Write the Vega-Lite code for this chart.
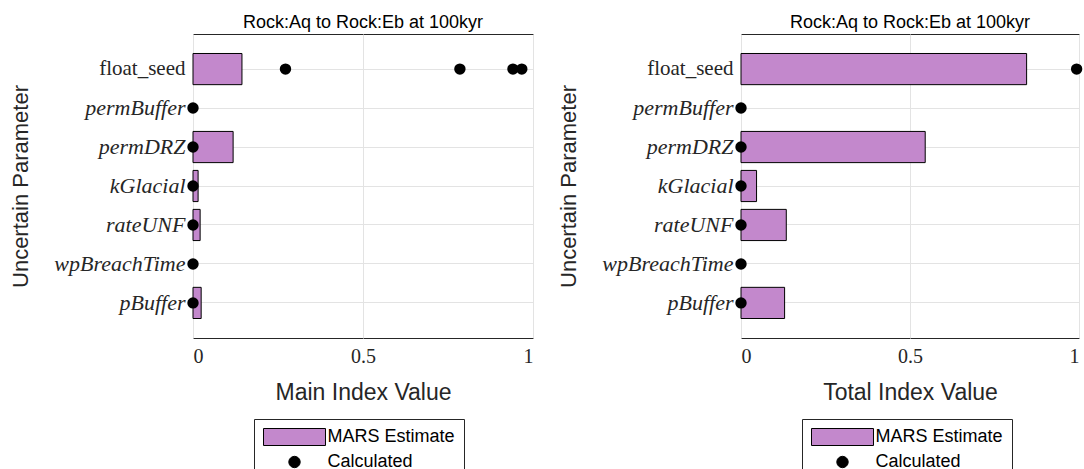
{
  "$schema": "https://vega.github.io/schema/vega-lite/v6.json",
  "background": "white",
  "padding": {"left": 8, "top": 13, "right": 0, "bottom": 0},
  "config": {
    "view": {"stroke": "#262626", "strokeWidth": 1},
    "font": "Liberation Sans",
    "title": {"font": "Liberation Sans", "fontSize": 18, "fontWeight": "normal", "color": "#000000", "offset": 2},
    "axis": {"labelColor": "#262626", "titleColor": "#262626", "gridColor": "#e3e3e3", "gridWidth": 1, "domain": false, "ticks": false, "titleFontWeight": "normal"},
    "legend": {
      "orient": "none", "legendX": 61, "legendY": 385, "direction": "vertical", "title": null,
      "strokeColor": "#262626", "fillColor": "white", "padding": 9,
      "labelFont": "Liberation Sans", "labelFontSize": 18, "labelColor": "#000000",
      "symbolOffset": 22.5, "labelOffset": 24, "labelLimit": 300,
      "symbolStrokeColor": "#000000", "symbolStrokeWidth": 1,
      "rowPadding": 5
    }
  },
  "datasets": {
    "sens": [
      {"index": "Main", "kind": "MARS Estimate", "param": "float_seed", "value": 0.144},
      {"index": "Main", "kind": "MARS Estimate", "param": "permBuffer", "value": 0},
      {"index": "Main", "kind": "MARS Estimate", "param": "permDRZ", "value": 0.118},
      {"index": "Main", "kind": "MARS Estimate", "param": "kGlacial", "value": 0.015},
      {"index": "Main", "kind": "MARS Estimate", "param": "rateUNF", "value": 0.021},
      {"index": "Main", "kind": "MARS Estimate", "param": "wpBreachTime", "value": 0},
      {"index": "Main", "kind": "MARS Estimate", "param": "pBuffer", "value": 0.024},
      {"index": "Main", "kind": "Calculated", "param": "float_seed", "value": 0.272},
      {"index": "Main", "kind": "Calculated", "param": "float_seed", "value": 0.785},
      {"index": "Main", "kind": "Calculated", "param": "float_seed", "value": 0.941},
      {"index": "Main", "kind": "Calculated", "param": "float_seed", "value": 0.967},
      {"index": "Main", "kind": "Calculated", "param": "permBuffer", "value": 0},
      {"index": "Main", "kind": "Calculated", "param": "permDRZ", "value": 0},
      {"index": "Main", "kind": "Calculated", "param": "kGlacial", "value": 0},
      {"index": "Main", "kind": "Calculated", "param": "rateUNF", "value": 0},
      {"index": "Main", "kind": "Calculated", "param": "wpBreachTime", "value": 0},
      {"index": "Main", "kind": "Calculated", "param": "pBuffer", "value": 0},
      {"index": "Total", "kind": "MARS Estimate", "param": "float_seed", "value": 0.845},
      {"index": "Total", "kind": "MARS Estimate", "param": "permBuffer", "value": 0},
      {"index": "Total", "kind": "MARS Estimate", "param": "permDRZ", "value": 0.545},
      {"index": "Total", "kind": "MARS Estimate", "param": "kGlacial", "value": 0.046},
      {"index": "Total", "kind": "MARS Estimate", "param": "rateUNF", "value": 0.134},
      {"index": "Total", "kind": "MARS Estimate", "param": "wpBreachTime", "value": 0},
      {"index": "Total", "kind": "MARS Estimate", "param": "pBuffer", "value": 0.129},
      {"index": "Total", "kind": "Calculated", "param": "float_seed", "value": 0.993},
      {"index": "Total", "kind": "Calculated", "param": "permBuffer", "value": 0},
      {"index": "Total", "kind": "Calculated", "param": "permDRZ", "value": 0},
      {"index": "Total", "kind": "Calculated", "param": "kGlacial", "value": 0},
      {"index": "Total", "kind": "Calculated", "param": "rateUNF", "value": 0},
      {"index": "Total", "kind": "Calculated", "param": "wpBreachTime", "value": 0},
      {"index": "Total", "kind": "Calculated", "param": "pBuffer", "value": 0}
    ]
  },
  "spacing": 22,
  "resolve": {
    "scale": {"color": "independent", "shape": "independent", "size": "independent"},
    "legend": {"color": "independent", "shape": "independent", "size": "independent"}
  },
  "hconcat": [
    {
      "width": 340,
      "height": 304,
      "title": "Rock:Aq to Rock:Eb at 100kyr",
      "data": {"name": "sens"},
      "transform": [{"filter": "datum.index === 'Main'"}],
      "encoding": {
        "y": {
          "field": "param", "type": "nominal",
          "sort": ["float_seed", "permBuffer", "permDRZ", "kGlacial", "rateUNF", "wpBreachTime", "pBuffer"],
          "scale": {"paddingInner": 0.2, "paddingOuter": 0.5},
          "axis": {
            "title": "Uncertain Parameter", "titleFont": "Liberation Sans", "titleFontSize": 22, "titlePadding": 6,
            "labelFont": "Liberation Serif",
            "labelFontSize": {"condition": {"test": "datum.value === 'float_seed'", "value": 21}, "value": 22},
            "labelFontStyle": {"condition": {"test": "datum.value === 'float_seed'", "value": "normal"}, "value": "italic"},
            "labelPadding": 8, "labelLimit": 200, "minExtent": 155, "maxExtent": 155,
            "grid": true, "bandPosition": 0.5
          }
        },
        "x": {
          "field": "value", "type": "quantitative",
          "scale": {"domain": [0, 1], "nice": false},
          "axis": {
            "title": "Main Index Value", "titleFont": "Liberation Sans", "titleFontSize": 23, "titlePadding": 15,
            "values": [0, 0.5, 1], "format": "~g",
            "labelFont": "Liberation Serif", "labelFontSize": 20, "labelPadding": 8, "grid": true
          }
        }
      },
      "layer": [
        {
          "transform": [{"filter": "datum.kind === 'MARS Estimate' && datum.value > 0"}],
          "mark": {"type": "bar", "stroke": "black", "strokeWidth": 1},
          "encoding": {
            "color": {
              "field": "kind", "type": "nominal",
              "scale": {"domain": ["MARS Estimate", "Calculated"], "range": ["#c388cc", "#000000"]}
            }
          }
        },
        {
          "transform": [{"filter": "datum.kind === 'Calculated'"}],
          "mark": {"type": "point", "filled": true, "opacity": 1},
          "encoding": {
            "color": {"field": "kind", "type": "nominal"},
            "shape": {
              "field": "kind", "type": "nominal",
              "scale": {"domain": ["MARS Estimate", "Calculated"], "range": ["M-3.647,-1H3.647V1H-3.647Z", "circle"]}
            },
            "size": {
              "field": "kind", "type": "nominal",
              "scale": {"type": "ordinal", "domain": ["MARS Estimate", "Calculated"], "range": [289, 130]}
            }
          }
        }
      ]
    },
    {
      "width": 338,
      "height": 304,
      "title": "Rock:Aq to Rock:Eb at 100kyr",
      "data": {"name": "sens"},
      "transform": [{"filter": "datum.index === 'Total'"}],
      "encoding": {
        "y": {
          "field": "param", "type": "nominal",
          "sort": ["float_seed", "permBuffer", "permDRZ", "kGlacial", "rateUNF", "wpBreachTime", "pBuffer"],
          "scale": {"paddingInner": 0.2, "paddingOuter": 0.5},
          "axis": {
            "title": "Uncertain Parameter", "titleFont": "Liberation Sans", "titleFontSize": 22, "titlePadding": 6,
            "labelFont": "Liberation Serif",
            "labelFontSize": {"condition": {"test": "datum.value === 'float_seed'", "value": 21}, "value": 22},
            "labelFontStyle": {"condition": {"test": "datum.value === 'float_seed'", "value": "normal"}, "value": "italic"},
            "labelPadding": 8, "labelLimit": 200, "minExtent": 155, "maxExtent": 155,
            "grid": true, "bandPosition": 0.5
          }
        },
        "x": {
          "field": "value", "type": "quantitative",
          "scale": {"domain": [0, 1], "nice": false},
          "axis": {
            "title": "Total Index Value", "titleFont": "Liberation Sans", "titleFontSize": 23, "titlePadding": 15,
            "values": [0, 0.5, 1], "format": "~g",
            "labelFont": "Liberation Serif", "labelFontSize": 20, "labelPadding": 8, "grid": true
          }
        }
      },
      "layer": [
        {
          "transform": [{"filter": "datum.kind === 'MARS Estimate' && datum.value > 0"}],
          "mark": {"type": "bar", "stroke": "black", "strokeWidth": 1},
          "encoding": {
            "color": {
              "field": "kind", "type": "nominal",
              "scale": {"domain": ["MARS Estimate", "Calculated"], "range": ["#c388cc", "#000000"]}
            }
          }
        },
        {
          "transform": [{"filter": "datum.kind === 'Calculated'"}],
          "mark": {"type": "point", "filled": true, "opacity": 1},
          "encoding": {
            "color": {"field": "kind", "type": "nominal"},
            "shape": {
              "field": "kind", "type": "nominal",
              "scale": {"domain": ["MARS Estimate", "Calculated"], "range": ["M-3.647,-1H3.647V1H-3.647Z", "circle"]}
            },
            "size": {
              "field": "kind", "type": "nominal",
              "scale": {"type": "ordinal", "domain": ["MARS Estimate", "Calculated"], "range": [289, 130]}
            }
          }
        }
      ]
    }
  ]
}
